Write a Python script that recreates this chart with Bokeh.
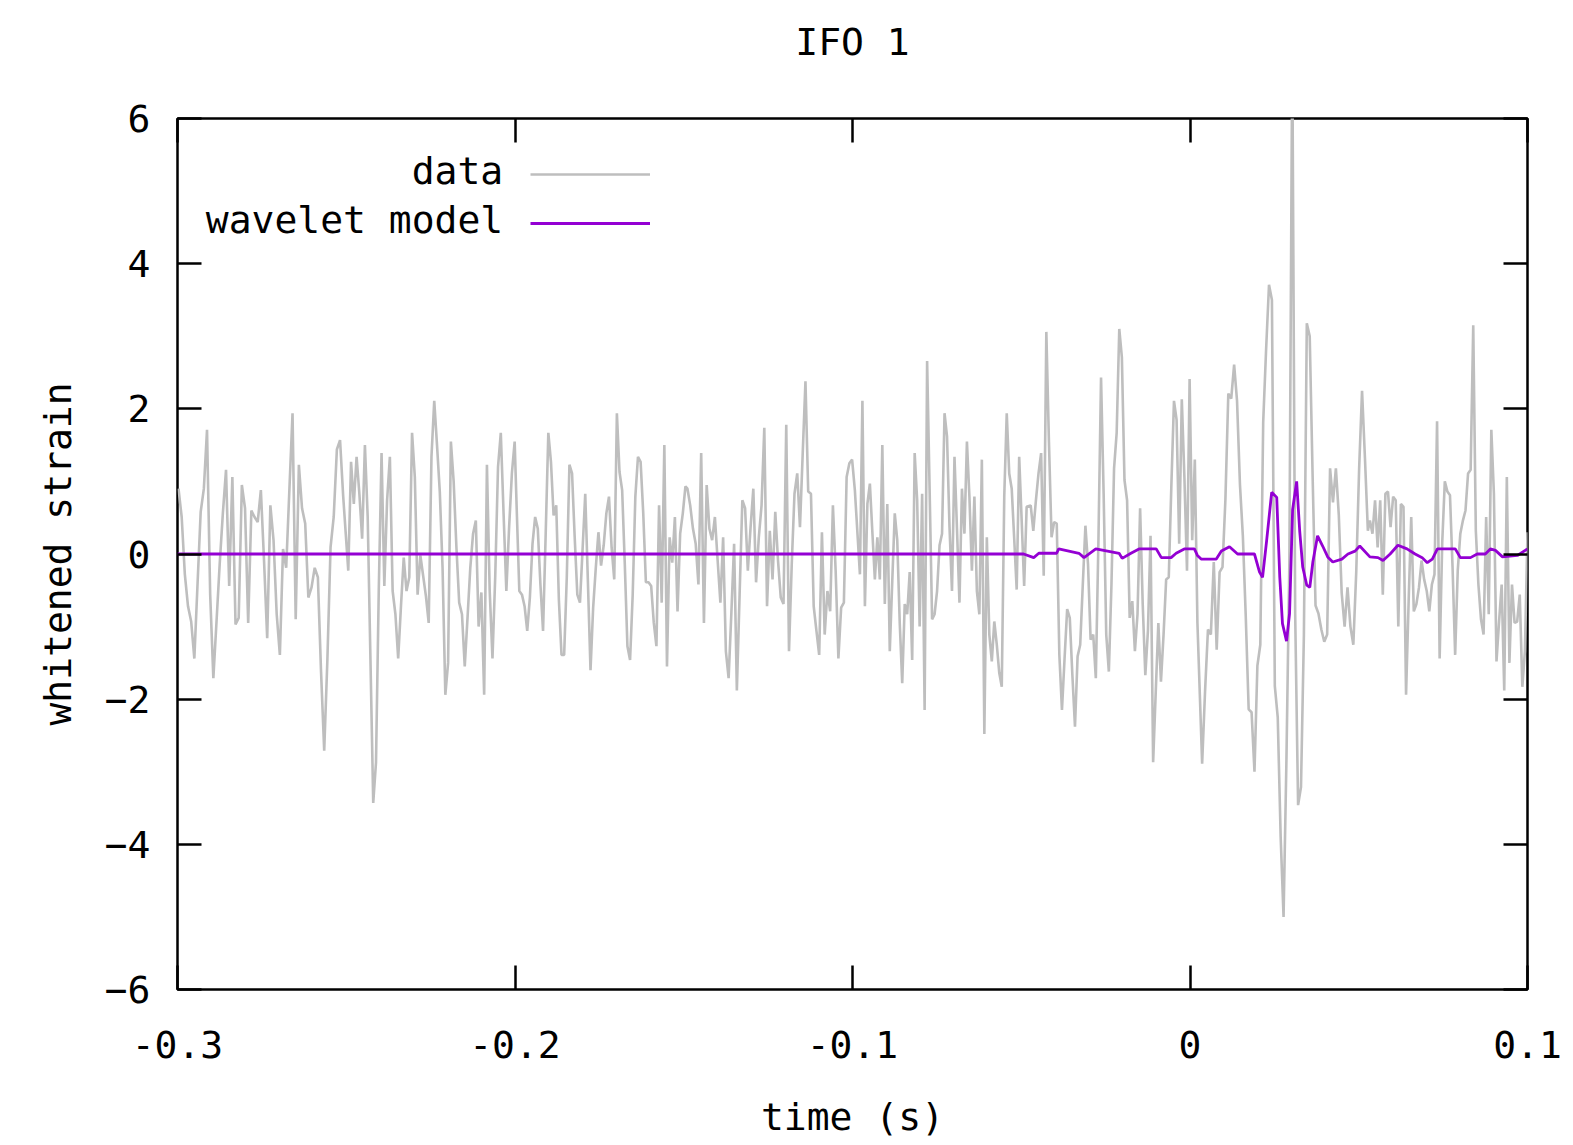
import numpy as np
from bokeh.plotting import figure
from bokeh.models import Range1d, FixedTicker, LinearAxis, Legend, LegendItem, Label
from bokeh.embed import file_html
from bokeh.resources import INLINE

TITLE = "IFO 1"
X_LABEL = "time (s)"
Y_LABEL = "whitened strain"
x_ticks = [-0.3, -0.2, -0.1, 0, 0.1]
x_tick_labels = ["-0.3", "-0.2", "-0.1", "0", "0.1"]
y_ticks = [-6, -4, -2, 0, 2, 4, 6]
legend_labels = ["data", "wavelet model"]

# whitened strain data, read piecewise (start time, end time, samples)
data_seg1_span = (-0.2997, -0.2509)
data_seg1 = [0.90, 0.51, -0.28, -0.72, -0.93, -1.44, -0.42, 0.58, 0.90, 1.71, -0.56, -1.71, -0.93, -0.14,
             0.56, 1.16, -0.44, 1.06, -0.97, -0.88, 0.95, 0.63, -0.95, 0.60, 0.51, 0.44, 0.88, -0.09,
             -1.16, 0.67, 0.19, -0.83, -1.39, 0.07, -0.19, 0.88, 1.94, -0.90, 1.23, 0.63, 0.42, -0.60,
             -0.46, -0.19, -0.32, -1.62, -2.71, -1.46, 0.09, 0.51, 1.44, 1.57, 0.79]
data_seg2_span = (-0.2494, -0.2001)
data_seg2 = [-0.23, 1.27, 0.69, 1.34, 0.83, 0.21, 1.50, 0.51, -1.46, -3.43, -2.87, -0.49, 1.39, -0.44,
             0.74, 1.34, -0.51, -0.83, -1.44, -0.72, -0.05, -0.51, -0.32, 1.67, 1.06, -0.56, -0.02,
             -0.30, -0.58, -0.95, 1.34, 2.11, 1.50, 0.86, -0.19, -1.94, -1.50, 1.55, 1.00, 0.09, -0.67,
             -0.83, -1.55, -0.88, -0.19, 0.28, 0.46, -1.00, -0.53, -1.94, 1.23, -0.51, -1.44, -0.30,
             1.20, 1.67, 0.56, -0.51, 0.37, 1.11, 1.55]
data_seg3_span = (-0.1995, -0.1495)
data_seg3 = [0.63, -0.51, -0.56, -0.72, -1.06, -0.60, 0.14, 0.51, 0.35, -0.42, -1.06, 0.28, 1.67, 1.27,
             0.53, 0.67, -0.63, -1.39, -1.39, -0.32, 1.23, 1.11, 0.23, -0.56, -0.67, 0.07, 0.83, -0.37,
             -1.60, -0.74, -0.19, 0.30, -0.16, 0.12, 0.56, 0.79, 0.09, -0.35, 1.94, 1.13, 0.88, -0.14,
             -1.27, -1.46, -0.56, 0.79, 1.34, 1.27, 0.56, -0.39, -0.39, -0.44, -0.95, -1.27, 0.67,
             -0.67, 1.50, -1.55, 0.23, -0.12, 0.51, -0.79, 0.28, 0.56, 0.93]
data_seg4_span = (-0.1489, -0.0993)
data_seg4 = [0.90, 0.67, 0.35, 0.14, -0.42, 1.39, -0.95, 0.95, 0.35, 0.19, 0.51, -0.09, -0.67, 0.23,
             -1.34, -1.71, -0.81, 0.14, -1.88, -0.56, 0.74, 0.63, -0.23, 0.37, 0.90, -0.39, 0.23, 0.67,
             1.74, -0.72, 0.32, -0.35, 0.58, -0.09, -0.60, -0.69, 1.78, -1.34, -0.14, 0.83, 1.11, 0.37,
             1.39, 2.38, 0.86, 0.83, -0.72, -1.06, -1.39, 0.30, -1.11, -0.51, -0.79, 0.67, -0.23,
             -1.44, -0.74, -0.67, 1.06, 1.25, 1.30, 0.88]
data_seg5_span = (-0.0978, -0.0484)
data_seg5 = [-0.28, 2.11, -0.72, 0.69, 0.97, 0.30, -0.35, 0.23, -0.35, 1.50, -0.69, 0.69, -1.34, -0.37,
             0.56, 0.19, -0.95, -1.78, -0.69, -0.83, -0.25, -1.46, 1.39, 0.74, -1.00, 0.83, -2.15, 2.66,
             0.90, -0.90, -0.83, -0.51, 0.12, 0.28, 1.94, 1.62, 0.37, -0.51, 1.34, 0.35, -0.67, 0.90,
             0.28, 1.55, 0.79, -0.23, 0.79, -0.51, -0.83, 1.30, -2.48, 0.23, -1.11, -1.48, -0.93,
             -1.25, -1.64, -1.83, 0.79, 1.94, 1.11, 0.90, 0.21, -0.49, 1.34, 0.46, -0.44, 0.65]
data_seg6_span = (-0.0472, 0.0022)
data_seg6 = [0.67, 0.32, 0.74, 1.11, 1.39, -0.30, 3.06, 1.55, 0.23, 0.44, 0.42, -1.39, -2.15, -1.44,
             -0.76, -0.88, -1.67, -2.38, -1.41, -1.25, -0.42, 0.39, -0.14, -1.18, -1.11, -1.71, 0.19,
             2.43, 0.83, -1.11, -1.62, -0.42, 1.18, 1.67, 3.10, 2.71, 1.02, 0.74, -0.88, -0.65, -1.34,
             -0.83, 0.63, -0.69, -1.67, -1.06, 0.25, -2.87, -1.90, -0.95, -1.76, -1.11, -0.35, -0.32,
             0.95, 2.11, 1.85, 0.14, 2.13, 1.06, -0.23, 2.41, 0.19, 1.30, -0.95]
data_seg7_span = (0.0036, 0.0527)
data_seg7 = [-2.89, -1.89, -1.04, -1.11, -0.11, -1.32, -0.25, -0.18, 0.75, 2.21, 2.14, 2.61, 2.11, 0.96,
             0.25, -0.86, -2.14, -2.18, -3.00, -1.54, -1.25, 1.82, 2.82, 3.71, 3.50, -1.82, -2.25,
             -3.89, -5.00, -2.82, -0.11, 7.00, -0.82, -3.46, -3.21, -1.11, 3.18, 3.00, 1.07, -0.71,
             -0.82, -1.04, -1.21, -1.11, 1.18, 0.71, 1.18, 0.54, -0.54, -1.00, -0.46, -1.00, -1.25,
             -0.25, 1.18, 2.25, 1.32, 0.32]
data_seg8_span = (0.0533, 0.1000)
data_seg8 = [0.46, 0.28, 0.74, 0.09, 0.74, -0.56, 0.83, 0.86, 0.37, 0.79, 0.74, -1.00, 0.69, 0.65,
             -1.94, -0.65, 0.51, -0.79, -0.69, -0.46, -0.09, -0.35, -0.51, -0.79, -0.42, -0.28, 1.83,
             -1.44, 0.16, 1.00, 0.86, 0.81, -0.19, -1.39, -0.23, 0.28, 0.46, 0.60, 1.11, 1.16, 3.15,
             0.32, -0.42, -0.90, -1.11, 0.51, -0.83, 1.71, 0.83, -1.48, -0.93, -0.42, -1.88, 1.06,
             -1.50, -0.42, -0.95, -0.93, -0.56, -1.83, -1.34, 0.30]

# wavelet model (time, value)
model_t = [-0.3, -0.0493, -0.0463, -0.0448, -0.0395, -0.0389, -0.0329, -0.0314, -0.0279, -0.0210,
           -0.0201, -0.0175, -0.0151, -0.0100, -0.0085, -0.0056, -0.0041, -0.0017, 0.0013, 0.0022,
           0.0033, 0.0078, 0.0093, 0.0117, 0.0141, 0.0191, 0.0206, 0.0215, 0.0227, 0.0242, 0.0257,
           0.0266, 0.0274, 0.0286, 0.0295, 0.0304, 0.0316, 0.0325, 0.0334, 0.0346, 0.0355, 0.0364,
           0.0378, 0.0393, 0.0408, 0.0423, 0.0450, 0.0468, 0.0489, 0.0503, 0.0533, 0.0557, 0.0572,
           0.0593, 0.0616, 0.0643, 0.0667, 0.0688, 0.0703, 0.0718, 0.0733, 0.0786, 0.0801, 0.0831,
           0.0851, 0.0875, 0.0890, 0.0905, 0.0926, 0.0970, 0.1000]
model_v = [0.0, 0.0, -0.05, 0.01, 0.01, 0.07, 0.01, -0.05, 0.07, 0.01,
           -0.06, 0.01, 0.07, 0.07, -0.05, -0.05, 0.01, 0.07, 0.07, -0.02,
           -0.07, -0.07, 0.04, 0.10, 0.0, 0.0, -0.25, -0.32, 0.18, 0.85, 0.78,
           -0.32, -0.96, -1.20, -0.82, 0.61, 1.00, 0.32, -0.18, -0.43, -0.46, -0.11,
           0.25, 0.11, -0.04, -0.11, -0.07, 0.0, 0.04, 0.11, -0.04, -0.05, -0.09,
           0.0, 0.12, 0.07, 0.0, -0.05, -0.12, -0.07, 0.07, 0.07, -0.05, -0.05,
           0.0, 0.0, 0.07, 0.05, -0.04, -0.02, 0.07]

segments = [(data_seg1_span, data_seg1), (data_seg2_span, data_seg2), (data_seg3_span, data_seg3),
            (data_seg4_span, data_seg4), (data_seg5_span, data_seg5), (data_seg6_span, data_seg6),
            (data_seg7_span, data_seg7), (data_seg8_span, data_seg8)]
data_t = np.concatenate([np.linspace(s[0], s[1], len(v)) for s, v in segments])
data_v = np.concatenate([np.array(v, dtype=float) for s, v in segments])

FONT = "DejaVu Sans Mono"
FS = "38px"
GRAY = "#bebebe"
PURPLE = "#9400d3"

p = figure(width=1573, height=1145, output_backend="svg", toolbar_location=None,
           x_range=Range1d(-0.3, 0.1), y_range=Range1d(-6, 6),
           min_border_left=177, min_border_right=46, min_border_top=118, min_border_bottom=156,
           x_axis_type=None, y_axis_type=None)
p.grid.visible = False
p.background_fill_color = "white"
p.border_fill_color = "white"
p.outline_line_color = "black"
p.outline_line_width = 2.5

xt = FixedTicker(ticks=x_ticks)
yt = FixedTicker(ticks=y_ticks)


def style_axis(ax, labels=True):
    ax.axis_line_color = None
    ax.major_tick_in = 24
    ax.major_tick_out = 0
    ax.major_tick_line_color = "black"
    ax.major_tick_line_width = 2.5
    ax.minor_tick_line_color = None
    ax.major_label_text_font = FONT
    ax.major_label_text_font_size = FS
    ax.major_label_text_color = "black"
    ax.axis_label_text_font = FONT
    ax.axis_label_text_font_size = FS
    ax.axis_label_text_font_style = "normal"
    ax.axis_label_text_color = "black"
    if not labels:
        ax.major_label_text_color = None
        ax.major_label_text_font_size = "1px"


xb = LinearAxis(ticker=xt, axis_label=X_LABEL,
                major_label_overrides={t: l for t, l in zip(x_ticks, x_tick_labels)})
style_axis(xb)
xb.major_label_standoff = 41
xb.axis_label_standoff = 34
p.add_layout(xb, "below")

yl = LinearAxis(ticker=yt, axis_label=Y_LABEL)
style_axis(yl)
yl.major_label_standoff = 27
yl.axis_label_standoff = 22
p.add_layout(yl, "left")

# top mirror axis carries the chart title as its label
xa = LinearAxis(ticker=xt, axis_label=TITLE)
style_axis(xa, labels=False)
xa.major_label_standoff = 0
xa.axis_label_standoff = 55
p.add_layout(xa, "above")
yr = LinearAxis(ticker=yt)
style_axis(yr, labels=False)
p.add_layout(yr, "right")

r_data = p.line(data_t, data_v, line_color=GRAY, line_width=2.6)
r_model = p.line(model_t, model_v, line_color=PURPLE, line_width=2.8)

legend = Legend(items=[LegendItem(label=" ", renderers=[r_data]),
                       LegendItem(label=" ", renderers=[r_model])],
                location=(353, 756), glyph_width=120, glyph_height=20, label_height=20,
                label_width=0, label_standoff=0, label_text_font_size="1px",
                spacing=29, padding=0, margin=0, border_line_color=None,
                background_fill_alpha=0)
p.add_layout(legend)

for txt, yv in zip(legend_labels, [5.28, 4.60]):
    p.add_layout(Label(x=-0.2035, y=yv, text=txt, text_align="right", text_baseline="middle",
                       text_font=FONT, text_font_size=FS, text_color="black"))

open("out.html", "w").write(file_html(p, INLINE))
